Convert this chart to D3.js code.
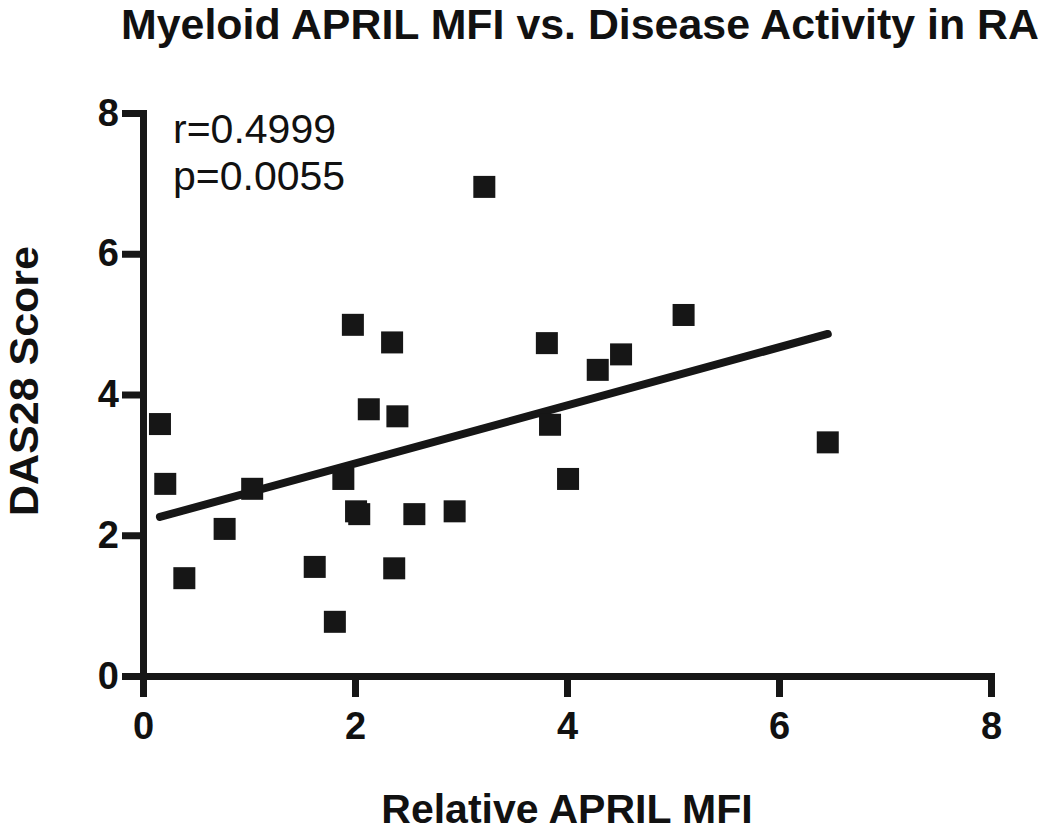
<!DOCTYPE html>
<html>
<head>
<meta charset="utf-8">
<script src="https://cdn.jsdelivr.net/npm/d3@7"></script>
<style>
  html, body { margin: 0; padding: 0; background: #fff; }
  svg { display: block; }
  text { font-family: "Liberation Sans", Arial, Helvetica, sans-serif; fill: #111; }
</style>
</head>
<body>
<svg id="chart" width="1050" height="834"></svg>
<script>
// ---- Data ----
const aprilMFI = [0.16, 0.21, 0.39, 0.77, 1.03, 1.62, 1.81, 1.89, 2.01, 2.04, 2.13, 2.40, 2.37, 2.56, 1.98, 2.35, 2.94, 3.81, 3.84, 4.01, 4.29, 4.51, 5.10, 6.46, 3.22];
const das28Score = [3.58, 2.73, 1.39, 2.09, 2.66, 1.55, 0.77, 2.80, 2.34, 2.30, 3.79, 3.69, 1.53, 2.30, 4.99, 4.74, 2.34, 4.73, 3.57, 2.80, 4.35, 4.57, 5.13, 3.32, 6.95];
const fitX = [0.16, 6.46];
const fitY = [2.26, 4.86];
const xTicks = [0, 2, 4, 6, 8];
const yTicks = [0, 2, 4, 6, 8];
const titleText = "Myeloid APRIL MFI vs. Disease Activity in RA";
const xLabel = "Relative APRIL MFI";
const yLabel = "DAS28 Score";
const statLines = ["r=0.4999", "p=0.0055"];

const ink = "#161616";
const svg = d3.select("#chart");

const x = d3.scaleLinear().domain([0, 8]).range([143, 991]);
const y = d3.scaleLinear().domain([0, 8]).range([676, 113]);

// Axes
const xAxis = d3.axisBottom(x).tickValues(xTicks).tickFormat(d3.format("d"))
  .tickSizeOuter(0).tickSizeInner(21).tickPadding(15);
const yAxis = d3.axisLeft(y).tickValues(yTicks).tickFormat(d3.format("d"))
  .tickSizeOuter(0).tickSizeInner(21).tickPadding(3);

const gx = svg.append("g").attr("transform", `translate(0,${y(0)})`).call(xAxis);
const gy = svg.append("g").attr("transform", `translate(${x(0)},0)`).call(yAxis);

[gx, gy].forEach(g => {
  g.select(".domain").attr("stroke", ink).attr("stroke-width", 7).attr("stroke-linecap", "square");
  g.selectAll(".tick line").attr("stroke", ink).attr("stroke-width", 7);
  g.selectAll(".tick text")
    .attr("fill", ink)
    .style("font-family", '"Liberation Sans", Arial, sans-serif')
    .style("font-weight", "bold")
    .style("font-size", "38px");
});

// Regression line
svg.append("line")
  .attr("x1", x(fitX[0])).attr("y1", y(fitY[0]))
  .attr("x2", x(fitX[1])).attr("y2", y(fitY[1]))
  .attr("stroke", ink).attr("stroke-width", 8).attr("stroke-linecap", "round");

// Points (squares)
const side = 22;
svg.append("g").selectAll("rect")
  .data(aprilMFI.map((v, i) => [v, das28Score[i]]))
  .join("rect")
  .attr("x", d => x(d[0]) - side / 2)
  .attr("y", d => y(d[1]) - side / 2)
  .attr("width", side).attr("height", side)
  .attr("fill", ink);

// Title
svg.append("text")
  .attr("x", 580).attr("y", 39)
  .attr("text-anchor", "middle")
  .attr("textLength", 918).attr("lengthAdjust", "spacingAndGlyphs")
  .style("font-weight", "bold").style("font-size", "42px")
  .text(titleText);

// Axis titles
svg.append("text")
  .attr("x", 567).attr("y", 823)
  .attr("text-anchor", "middle")
  .style("font-weight", "bold").style("font-size", "41px")
  .text(xLabel);

svg.append("text")
  .attr("transform", "translate(38,381) rotate(-90)")
  .attr("text-anchor", "middle")
  .attr("textLength", 270).attr("lengthAdjust", "spacingAndGlyphs")
  .style("font-weight", "bold").style("font-size", "40px")
  .text(yLabel);

// Stats
svg.append("g").selectAll("text")
  .data(statLines)
  .join("text")
  .attr("x", 173)
  .attr("y", (d, i) => 143 + i * 47)
  .style("font-size", "41px")
  .text(d => d);
</script>
</body>
</html>
